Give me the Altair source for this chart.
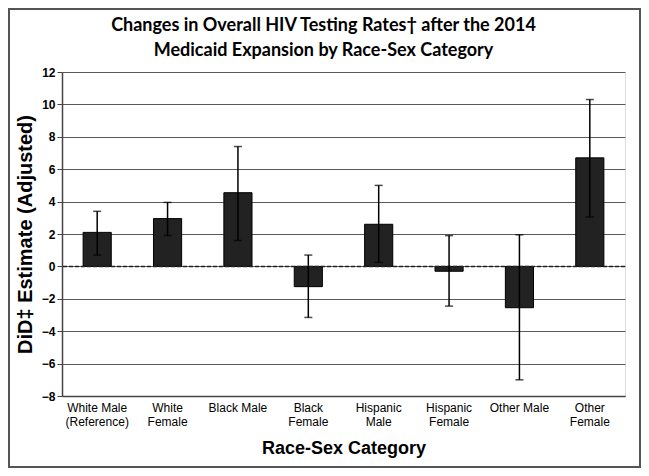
import altair as alt
import pandas as pd

categories = ["White Male\n(Reference)", "White\nFemale", "Black Male", "Black\nFemale",
              "Hispanic\nMale", "Hispanic\nFemale", "Other Male", "Other\nFemale"]
estimates = [2.1, 2.95, 4.55, -1.25, 2.6, -0.3, -2.55, 6.7]
ci_low = [0.7, 1.9, 1.6, -3.15, 0.25, -2.45, -7.0, 3.05]
ci_high = [3.4, 3.95, 7.4, 0.7, 5.0, 1.9, 1.95, 10.3]
y_ticks = [-8, -6, -4, -2, 0, 2, 4, 6, 8, 10, 12]

df = pd.DataFrame({"cat": categories, "est": estimates, "lo": ci_low, "hi": ci_high})

W, H = 563, 324

xenc = alt.X("cat:N", sort=categories,
             scale=alt.Scale(paddingInner=0.6, paddingOuter=0.3),
             axis=alt.Axis(title="Race-Sex Category", labelAngle=0, ticks=False,
                           labelExpr="split(datum.label, '\\n')",
                           labelFont="Liberation Sans", labelFontSize=12,
                           labelColor="#000", labelLineHeight=14, labelPadding=6,
                           titleFont="Liberation Sans", titleFontSize=18,
                           titleFontWeight="bold", titleColor="#000", titlePadding=12,
                           domainColor="#444", domainWidth=1.5))
yscale = alt.Scale(domain=[-8, 12], nice=False)
yaxis = alt.Axis(title="DiD\u2021  Estimate (Adjusted)", values=y_ticks, labelOverlap=False,
                 labelFont="Liberation Sans", labelFontSize=12, labelFontWeight="bold",
                 labelColor="#000", labelPadding=2, tickSize=5, tickColor="#444",
                 grid=True, gridColor="#5a5a5a", gridWidth=1.2,
                 titleFont="Liberation Sans", titleFontSize=20, titleFontWeight="bold",
                 titleColor="#000", titlePadding=6, domainColor="#444", domainWidth=1.5)

base = alt.Chart(df)

bars = base.mark_bar(color="#222222", stroke="#000000", strokeWidth=1).encode(
    x=xenc, y=alt.Y("est:Q", scale=yscale, axis=yaxis))

zero = alt.Chart(pd.DataFrame({"z": [0]})).mark_rule(
    color="#222", strokeDash=[4, 2], strokeWidth=1.5).encode(
    y=alt.Y("z:Q", scale=yscale, axis=yaxis))

rules = base.mark_rule(color="#000", strokeWidth=1.5).encode(
    x=alt.X("cat:N", sort=categories), y=alt.Y("lo:Q", scale=yscale, axis=yaxis), y2="hi:Q")
cap_lo = base.mark_tick(color="#000", orient="horizontal", size=8, thickness=1.5).encode(
    x=alt.X("cat:N", sort=categories), y=alt.Y("lo:Q", scale=yscale, axis=yaxis))
cap_hi = base.mark_tick(color="#000", orient="horizontal", size=8, thickness=1.5).encode(
    x=alt.X("cat:N", sort=categories), y=alt.Y("hi:Q", scale=yscale, axis=yaxis))

frame = alt.Chart(pd.DataFrame({"a": [0]})).mark_rect(
    fill=None, stroke="#555", strokeWidth=2).encode(
    x=alt.value(-53), x2=alt.value(W + 15), y=alt.value(-63), y2=alt.value(H + 71))

chart = alt.layer(bars, zero, rules, cap_lo, cap_hi, frame).properties(
    width=W, height=H,
    title=alt.Title(["Changes in Overall HIV Testing Rates\u2020 after the 2014",
                     "Medicaid Expansion by Race-Sex Category"],
                    font="Lato", fontSize=18, fontWeight="bold", color="#000",
                    lineHeight=25, anchor="middle", frame="group", dx=-20,
                    offset=0, dy=52),
    autosize=alt.AutoSizeParams(type="none"),
    padding={"left": 54, "top": 64, "right": 16, "bottom": 72},
).configure_view(fill="#cccccc", stroke=None).configure(background="white")

chart.save("out.html", embed_options={"renderer": "svg", "actions": False})
